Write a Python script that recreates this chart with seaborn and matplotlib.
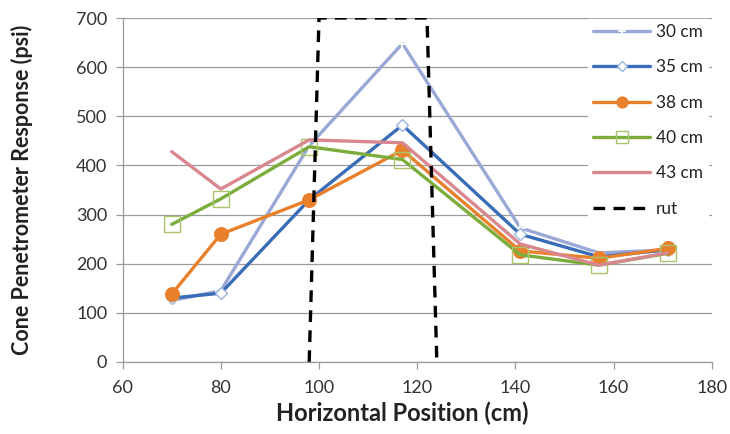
import matplotlib
matplotlib.use("Agg")
import matplotlib.pyplot as plt
import seaborn as sns
import pandas as pd

sns.set_theme(style="white")
plt.rcParams['font.family'] = ['Lato', 'DejaVu Sans']

# horizontal positions (cm)
position = [70, 80, 98, 117, 141, 157, 171]

# cone penetrometer response (psi) for each depth
cp_30 = [125, 145, 440, 648, 273, 222, 228]
cp_35 = [130, 140, 330, 482, 260, 214, 228]
cp_38 = [138, 260, 330, 431, 226, 211, 231]
cp_40 = [280, 332, 438, 412, 218, 197, 221]
cp_43 = [428, 352, 452, 446, 240, 197, 222]

# rut outline
rut_x = [98, 100, 122, 124]
rut_y = [0, 700, 700, 0]

series = [
    ("30 cm", cp_30, dict(color="#9AA8D6", marker="+", markersize=8, mew=1.2)),
    ("35 cm", cp_35, dict(color="#3A6DB8", marker="D", markersize=6, mfc="white", mec="#9AB4DE", mew=1)),
    ("38 cm", cp_38, dict(color="#E8802C", marker="o", markersize=10, mec="#E8802C")),
    ("40 cm", cp_40, dict(color="#7CAD3C", marker="s", markersize=11, mfc="none", mec="#A9C46A", mew=1)),
    ("43 cm", cp_43, dict(color="#D8878F")),
]

fig = plt.figure(figsize=(7.3, 4.34), dpi=100)
ax = fig.add_axes([0.168, 0.166, 0.807, 0.7925])

for label, vals, style in series:
    df = pd.DataFrame({"x": position, "y": vals})
    sns.lineplot(data=df, x="x", y="y", ax=ax, label=label, linewidth=2.4, sort=False, **style)

sns.lineplot(x=rut_x, y=rut_y, ax=ax, color="black", linestyle=(0, (3.5, 2.5)),
             linewidth=2.4, sort=False, label="rut")

ax.set_xlim(60, 180)
ax.set_ylim(0, 700)
ax.set_xticks(range(60, 181, 20))
ax.set_yticks(range(0, 701, 100))
ax.yaxis.grid(True, color="#9A9A9A", linewidth=0.9)
ax.xaxis.grid(False)
ax.set_axisbelow(True)

for s in ["top", "right"]:
    ax.spines[s].set_visible(False)
for s in ["left", "bottom"]:
    ax.spines[s].set_color("#9A9A9A")
    ax.spines[s].set_linewidth(0.9)

ax.tick_params(axis="both", which="major", length=5, width=0.9, color="#9A9A9A",
               labelsize=13, labelcolor="#333333", direction="out", bottom=True, left=True)
ax.tick_params(axis="x", pad=8)
ax.tick_params(axis="y", pad=6)

ax.set_xlabel("Horizontal Position (cm)", fontsize=17, fontweight="bold", color="#222222")
ax.set_ylabel("Cone Penetrometer Response (psi)", fontsize=15.5, fontweight="bold", color="#222222")
ax.xaxis.set_label_coords(0.4745, -0.148)
ax.yaxis.set_label_coords(-0.171, 0.5)
ax.xaxis.label.set_va("center")
ax.yaxis.label.set_va("center")

leg = ax.legend(loc="upper left", bbox_to_anchor=(588 / 730, 1 - 19 / 434),
                bbox_transform=fig.transFigure, frameon=True, fancybox=False,
                facecolor="white", edgecolor="white", framealpha=1,
                fontsize=12.4, handlelength=3.3, handletextpad=0.35, labelspacing=1.12,
                borderpad=0.3, borderaxespad=0)
for t in leg.get_texts():
    t.set_color("#222222")
for h in leg.legend_handles:
    h.set_markersize(h.get_markersize() * 0.8)

fig.savefig("out.png", dpi=100)
